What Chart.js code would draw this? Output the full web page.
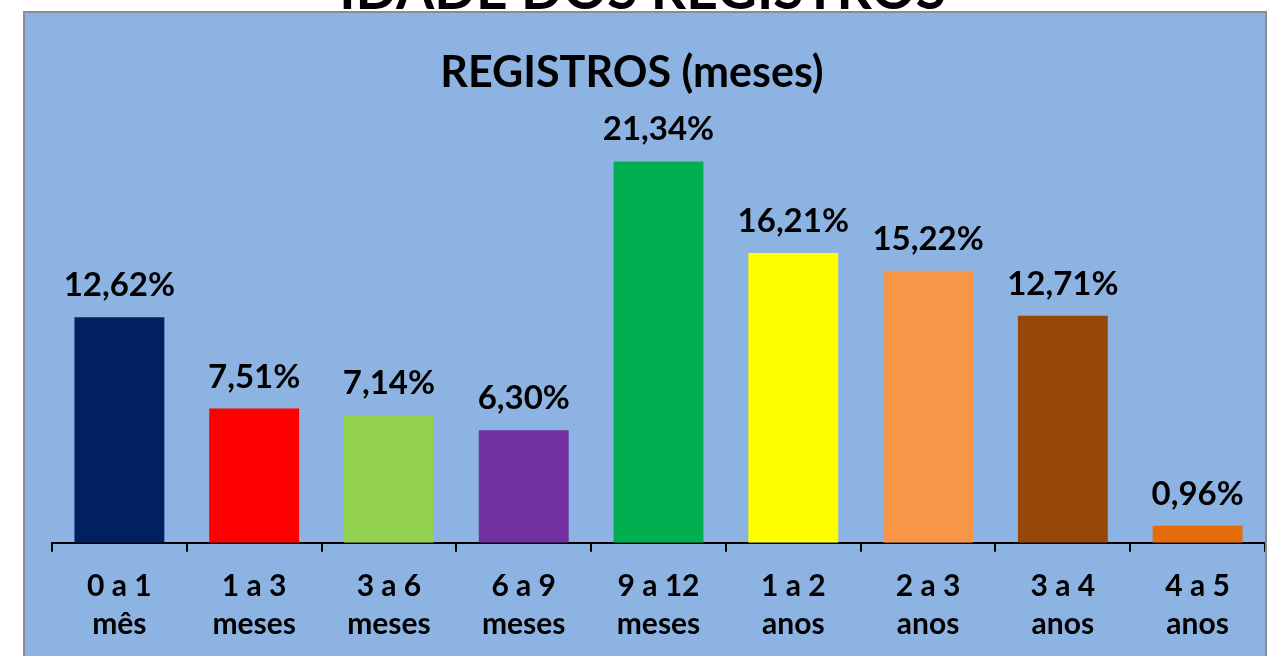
<!DOCTYPE html>
<html lang="pt">
<head>
  <meta charset="UTF-8" />
  <title>Idade dos registros</title>
  <script src="https://cdn.jsdelivr.net/npm/chart.js"></script>
  <style>
    body { margin: 0; background: #fff; font-family: Lato, sans-serif; overflow: hidden; }
    .top-title {
      position: absolute; left: 0; width: 1285px; top: -39px;
      text-align: center; font: bold 55px/55px Lato, sans-serif; color: #000;
    }
    .box {
      position: absolute; left: 23px; top: 11px;
      width: 1240px; height: 645px;
      background: #8DB3E2;
      border: 2px solid #8c8c8c; border-bottom: none;
    }
  </style>
</head>
<body>
<div class="top-title">IDADE DOS REGISTROS</div>
<div class="box">
  <canvas id="chart" width="1240" height="645"></canvas>
</div>
<script>
  const chartTitle = 'REGISTROS (meses)';
  const categories = [
    ['0 a 1', 'mês'], ['1 a 3', 'meses'], ['3 a 6', 'meses'], ['6 a 9', 'meses'],
    ['9 a 12', 'meses'], ['1 a 2', 'anos'], ['2 a 3', 'anos'], ['3 a 4', 'anos'], ['4 a 5', 'anos']
  ];
  const values = [12.62, 7.51, 7.14, 6.30, 21.34, 16.21, 15.22, 12.71, 0.96];
  const barColors = ['#002060', '#FF0000', '#92D050', '#7030A0', '#00B050', '#FFFF00', '#F79646', '#974706', '#E46C0A'];

  // title + value labels above each bar (comma decimals)
  const valueLabels = {
    id: 'valueLabels',
    afterDatasetsDraw(chart) {
      const ctx = chart.ctx;
      ctx.save();
      ctx.fillStyle = '#000';
      ctx.textAlign = 'center';
      ctx.textBaseline = 'middle';
      ctx.font = 'bold 43px Lato, sans-serif';
      ctx.fillText(chartTitle, 607, 60);
      ctx.font = 'bold 33px Lato, sans-serif';
      ctx.textBaseline = 'alphabetic';
      chart.getDatasetMeta(0).data.forEach((bar, i) => {
        const txt = values[i].toFixed(2).replace('.', ',') + '%';
        ctx.fillText(txt, bar.x, bar.y - 21);
      });
      ctx.restore();
    }
  };

  new Chart(document.getElementById('chart'), {
    type: 'bar',
    data: {
      labels: categories,
      datasets: [{
        data: values,
        backgroundColor: barColors,
        barPercentage: 0.667,
        categoryPercentage: 1
      }]
    },
    options: {
      responsive: false,
      animation: false,
      layout: { padding: { left: 27, right: 0, top: 83, bottom: 0 } },
      plugins: {
        legend: { display: false },
        tooltip: { enabled: false },
        title: { display: false }
      },
      scales: {
        x: {
          grid: { offset: true, drawOnChartArea: false, color: '#000', lineWidth: 2, tickLength: 9 },
          border: { color: '#000', width: 2 },
          ticks: {
            color: '#000', padding: 15, maxRotation: 0,
            font: { family: 'Lato, sans-serif', size: 30, weight: 'bold', lineHeight: 1.27 }
          }
        },
        y: {
          display: false,
          min: 0,
          max: 25
        }
      }
    },
    plugins: [valueLabels]
  });
</script>
</body>
</html>
